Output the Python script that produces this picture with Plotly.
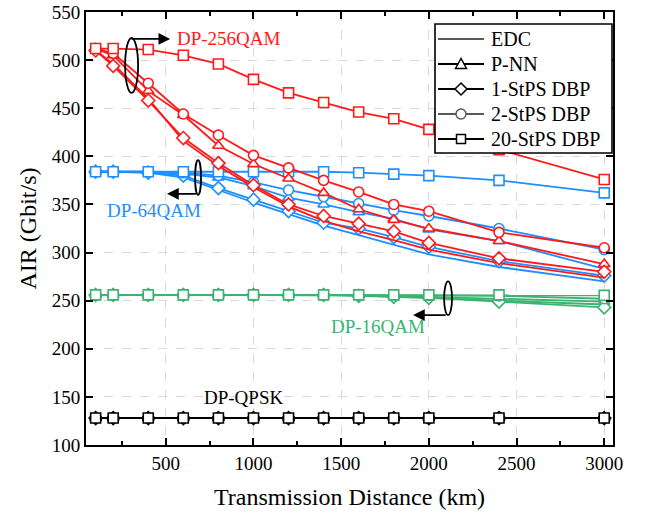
import plotly.graph_objects as go

# Transmission distances (km)
distance = [100, 200, 400, 600, 800, 1000, 1200, 1400, 1600, 1800, 2000, 2400, 3000]

# AIR (Gbit/s) per modulation format and equalisation scheme
qam256_edc = [510, 496, 460, 416, 390, 368, 348, 333, 322, 313, 303, 289, 274]
qam256_pnn = [512, 505, 468, 443, 411, 392, 377, 362, 345, 334, 325, 312, 288]
qam256_dbp1 = [510, 494, 458, 419, 393, 370, 350, 338, 330, 322, 310, 294, 280]
qam256_dbp2 = [512, 507, 476, 444, 422, 401, 388, 375, 363, 350, 343, 321, 305]
qam256_dbp20 = [512, 512, 511, 505, 496, 480, 466, 456, 446, 439, 428, 407, 376]

qam64_edc = [384, 384, 383, 378, 365, 352, 340, 328, 318, 308, 298, 285, 270]
qam64_pnn = [384, 384, 384, 382, 378, 369, 357, 350, 342, 335, 324, 312, 283]
qam64_dbp1 = [384, 384, 383, 380, 367, 355, 343, 331, 325, 316, 306, 291, 276]
qam64_dbp2 = [384, 384, 384, 383, 380, 373, 365, 358, 351, 344, 338, 325, 303]
qam64_dbp20 = [384, 384, 384, 384, 384, 384, 384, 384, 383, 381.5, 380, 375, 362]

qam16_edc = [256, 256, 256, 256, 256, 256, 256, 256, 255.5, 254, 253, 250, 246]
qam16_pnn = [256, 256, 256, 256, 256, 256, 256, 256, 256, 255, 254, 252, 249]
qam16_dbp1 = [256, 256, 256, 256, 256, 256, 256, 256, 255, 254, 253, 249, 243]
qam16_dbp2 = [256, 256, 256, 256, 256, 256, 256, 256, 256, 256, 255.5, 255, 252]
qam16_dbp20 = [256, 256, 256, 256, 256, 256, 256, 256, 256, 256, 256, 256, 255.5]

qpsk_all = [128] * len(distance)

schemes = ["EDC", "P-NN", "1-StPS DBP", "2-StPS DBP", "20-StPS DBP"]
symbols = [None, "triangle-up", "diamond", "circle", "square"]

groups = [
    ("#000000", [qpsk_all, qpsk_all, qpsk_all, qpsk_all, qpsk_all]),
    ("#3cb371", [qam16_edc, qam16_pnn, qam16_dbp1, qam16_dbp2, qam16_dbp20]),
    ("#1e8fff", [qam64_edc, qam64_pnn, qam64_dbp1, qam64_dbp2, qam64_dbp20]),
    ("#ff1a1a", [qam256_edc, qam256_pnn, qam256_dbp1, qam256_dbp2, qam256_dbp20]),
]

FONT = "Liberation Serif"
W, H = 651, 516
ML, MR, MT, MB = 86, 38, 12, 71
PW, PH = W - ML - MR, H - MT - MB

fig = go.Figure()

for color, series in groups:
    for name, sym, vals in zip(schemes, symbols, series):
        if sym is None:
            fig.add_trace(go.Scatter(
                x=distance, y=vals, mode="lines", name=name,
                line=dict(color=color, width=1.8), hoverinfo="skip"))
        else:
            fig.add_trace(go.Scatter(
                x=distance, y=vals, mode="lines+markers", name=name,
                line=dict(color=color, width=1.8),
                marker=dict(symbol=sym, size=10, color="white",
                            line=dict(color=color, width=1.6)),
                hoverinfo="skip"))


def px(xp):
    return (xp - ML) / PW


def py(yp):
    return (H - MB - yp) / PH


# Boxed legend drawn with shapes, in black
box = dict(x0=435, x1=612, y0=24, y1=153)
fig.add_shape(type="rect", xref="paper", yref="paper", layer="above",
              x0=px(box["x0"]), x1=px(box["x1"]), y0=py(box["y1"]), y1=py(box["y0"]),
              fillcolor="white", line=dict(color="black", width=1.6))
rows = [39, 64, 89, 114, 139]
legend_colors = ["#5a5a5a", "#000000", "#000000", "#5a5a5a", "#000000"]
lx0, lx1, mx, tx = 438, 484, 461, 489
for name, sym, lc, ry in zip(schemes, symbols, legend_colors, rows):
    fig.add_shape(type="line", xref="paper", yref="paper", layer="above",
                  x0=px(lx0), x1=px(lx1), y0=py(ry), y1=py(ry),
                  line=dict(color=lc, width=1.8))
    mk = dict(xref="paper", yref="paper", layer="above", fillcolor="white",
              line=dict(color=lc, width=1.5))
    if sym == "square":
        fig.add_shape(type="rect", x0=px(mx - 4.5), x1=px(mx + 4.5),
                      y0=py(ry + 4.5), y1=py(ry - 4.5), **mk)
    elif sym == "circle":
        fig.add_shape(type="circle", x0=px(mx - 5), x1=px(mx + 5),
                      y0=py(ry + 5), y1=py(ry - 5), **mk)
    elif sym == "diamond":
        pts = [(mx, ry - 6), (mx + 6, ry), (mx, ry + 6), (mx - 6, ry)]
        path = "M " + " L ".join(f"{px(a):.5f},{py(b):.5f}" for a, b in pts) + " Z"
        fig.add_shape(type="path", path=path, **mk)
    elif sym == "triangle-up":
        pts = [(mx - 5.5, ry + 4.5), (mx + 5.5, ry + 4.5), (mx, ry - 5.5)]
        path = "M " + " L ".join(f"{px(a):.5f},{py(b):.5f}" for a, b in pts) + " Z"
        fig.add_shape(type="path", path=path, **mk)
    fig.add_annotation(x=px(tx), y=py(ry), xref="paper", yref="paper", text=name,
                       showarrow=False, xanchor="left", yanchor="middle",
                       font=dict(family=FONT, size=20, color="black"))

# Group ellipses
ellipses = [
    (268, 342, 466, 523),   # DP-256QAM
    (667, 701, 360, 396),   # DP-64QAM
    (2087, 2132, 235, 270), # DP-16QAM
]
for x0, x1, y0, y1 in ellipses:
    fig.add_shape(type="circle", xref="x", yref="y", x0=x0, x1=x1, y0=y0, y1=y1,
                  line=dict(color="black", width=1.8))

# Arrows from ellipses to labels
arrows = [
    (296, 522, 525, 522),
    (680, 361, 507, 361),
    (2104, 235, 1910, 235),
]
for xs, ys, xe, ye in arrows:
    fig.add_annotation(x=xe, y=ye, ax=xs, ay=ys, xref="x", yref="y", axref="x", ayref="y",
                       text="", showarrow=True, arrowhead=2, arrowsize=1.3,
                       arrowwidth=1.8, arrowcolor="black")

labels = [
    ("DP-256QAM", 553, 522, "#ff1a1a", "left"),
    ("DP-64QAM", 154, 343.5, "#1e8fff", "left"),
    ("DP-16QAM", 1990, 223.5, "#3cb371", "right"),
    ("DP-QPSK", 707, 149, "#000000", "left"),
]
for txt, x, y, c, anc in labels:
    fig.add_annotation(x=x, y=y, xref="x", yref="y", text=txt, showarrow=False,
                       xanchor=anc, yanchor="middle",
                       font=dict(family=FONT, size=19, color=c))

fig.update_layout(
    width=W, height=H,
    margin=dict(l=ML, r=MR, t=MT, b=MB, autoexpand=False),
    paper_bgcolor="white", plot_bgcolor="white",
    font=dict(family=FONT, size=19, color="black"),
    showlegend=False,
)

fig.update_xaxes(
    range=[45, 3050], tickvals=[500, 1000, 1500, 2000, 2500, 3000],
    ticks="inside", ticklen=7, tickwidth=1.5, tickcolor="black",
    minor=dict(tickvals=[250, 750, 1250, 1750, 2250, 2750], ticks="inside",
               ticklen=4, tickwidth=1.5, tickcolor="black"),
    showline=True, linecolor="black", linewidth=1.8, mirror="ticks",
    showgrid=True, gridcolor="#d9d9d9", griddash="dash", gridwidth=1,
    zeroline=False, automargin=False,
    title=dict(text="Transmission Distance (km)", font=dict(family=FONT, size=24), standoff=15),
    tickfont=dict(family=FONT, size=19),
)
fig.update_yaxes(
    range=[100, 550], tickvals=list(range(100, 551, 50)),
    ticks="inside", ticklen=7, tickwidth=1.5, tickcolor="black",
    showline=True, linecolor="black", linewidth=1.8, mirror="ticks",
    showgrid=True, gridcolor="#d9d9d9", griddash="dash", gridwidth=1,
    zeroline=False, automargin=False,
    title=dict(text="AIR (Gbit/s)", font=dict(family=FONT, size=24), standoff=8),
    tickfont=dict(family=FONT, size=19),
)

fig.write_html("out.html")
